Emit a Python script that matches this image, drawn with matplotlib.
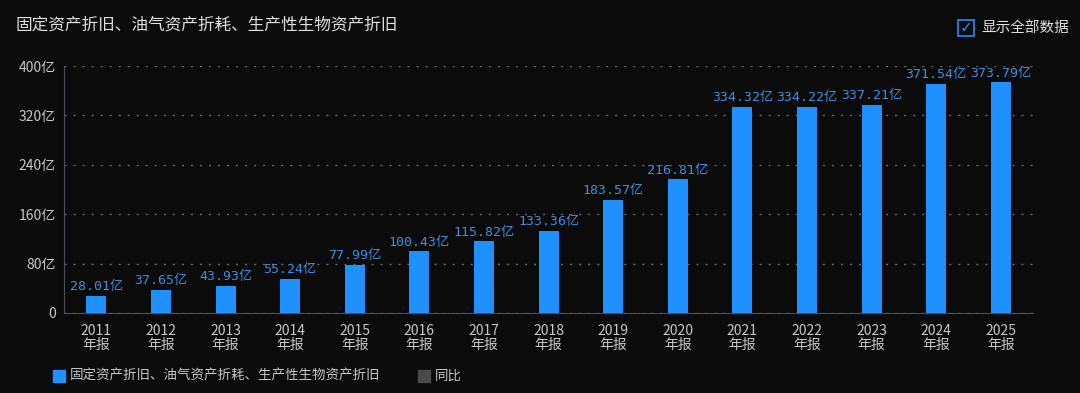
import matplotlib.pyplot as plt
from matplotlib.patches import Rectangle

plt.rcParams['font.family'] = ['Noto Sans CJK SC', 'DejaVu Sans']

years = ['2011', '2012', '2013', '2014', '2015', '2016', '2017', '2018',
         '2019', '2020', '2021', '2022', '2023', '2024', '2025']
values = [28.01, 37.65, 43.93, 55.24, 77.99, 100.43, 115.82, 133.36,
          183.57, 216.81, 334.32, 334.22, 337.21, 371.54, 373.79]
yticks = [0, 80, 160, 240, 320, 400]
title = '固定资产折旧、油气资产折耗、生产性生物资产折旧'

bg = '#0b0b0b'
bar_color = '#1e90ff'
label_color = '#3a8fe0'
text_color = '#c8c8c8'

fig = plt.figure(figsize=(10.8, 3.93), dpi=100, facecolor=bg)
ax = fig.add_axes([0.0593, 0.2036, 0.8972, 0.6284], facecolor=bg)

x = list(range(len(years)))
ax.bar(x, values, width=0.31, color=bar_color, zorder=3)
for xi, v in zip(x, values):
    ax.text(xi, v + 4, f'{v:.2f}亿', ha='center', va='bottom', color=label_color,
            fontsize=9.5, family=['DejaVu Sans Mono', 'Noto Sans CJK SC'], zorder=4)

ax.set_xlim(-0.5, len(years) - 0.5)
ax.set_ylim(0, 400)
ax.set_yticks(yticks)
ax.set_yticklabels([f'{t}亿' if t else '0' for t in yticks])
ax.set_xticks(x)
ax.set_xticklabels([f'{y}\n年报' for y in years], linespacing=0.95)
ax.tick_params(colors=text_color, labelsize=10, length=0)
ax.tick_params(axis='x', pad=8)
ax.tick_params(axis='y', pad=6)
ax.grid(axis='y', color='#666666', linestyle=(0, (1.5, 5)), linewidth=1, zorder=0)
for s in ['top', 'right']:
    ax.spines[s].set_visible(False)
for s in ['left', 'bottom']:
    ax.spines[s].set_color('#4a5058')

fig.text(0.014, 0.935, title, color='#e0e0e0', fontsize=12, va='center')

# checkbox
fig.patches.append(Rectangle((958 / 1080, 1 - 36 / 393), 16 / 1080, 16 / 393,
                             transform=fig.transFigure, fill=False,
                             edgecolor='#1e90ff', linewidth=1.2))
fig.text(966 / 1080, 1 - 28 / 393, '✓', color='#1e90ff', fontsize=11, ha='center',
         va='center', family=['DejaVu Sans'])
fig.text(981 / 1080, 1 - 28 / 393, '显示全部数据', color='#e0e0e0', fontsize=10.5, va='center')

# legend
fig.patches.append(Rectangle((53 / 1080, 1 - 382 / 393), 12 / 1080, 12 / 393,
                             transform=fig.transFigure, color=bar_color))
fig.text(70 / 1080, 1 - 376 / 393, title, color=text_color, fontsize=9.7, va='center')
fig.patches.append(Rectangle((418 / 1080, 1 - 382 / 393), 12 / 1080, 12 / 393,
                             transform=fig.transFigure, color='#4a4a4a'))
fig.text(435 / 1080, 1 - 376 / 393, '同比', color=text_color, fontsize=9.7, va='center')

fig.savefig('out.png', dpi=100, facecolor=bg)
